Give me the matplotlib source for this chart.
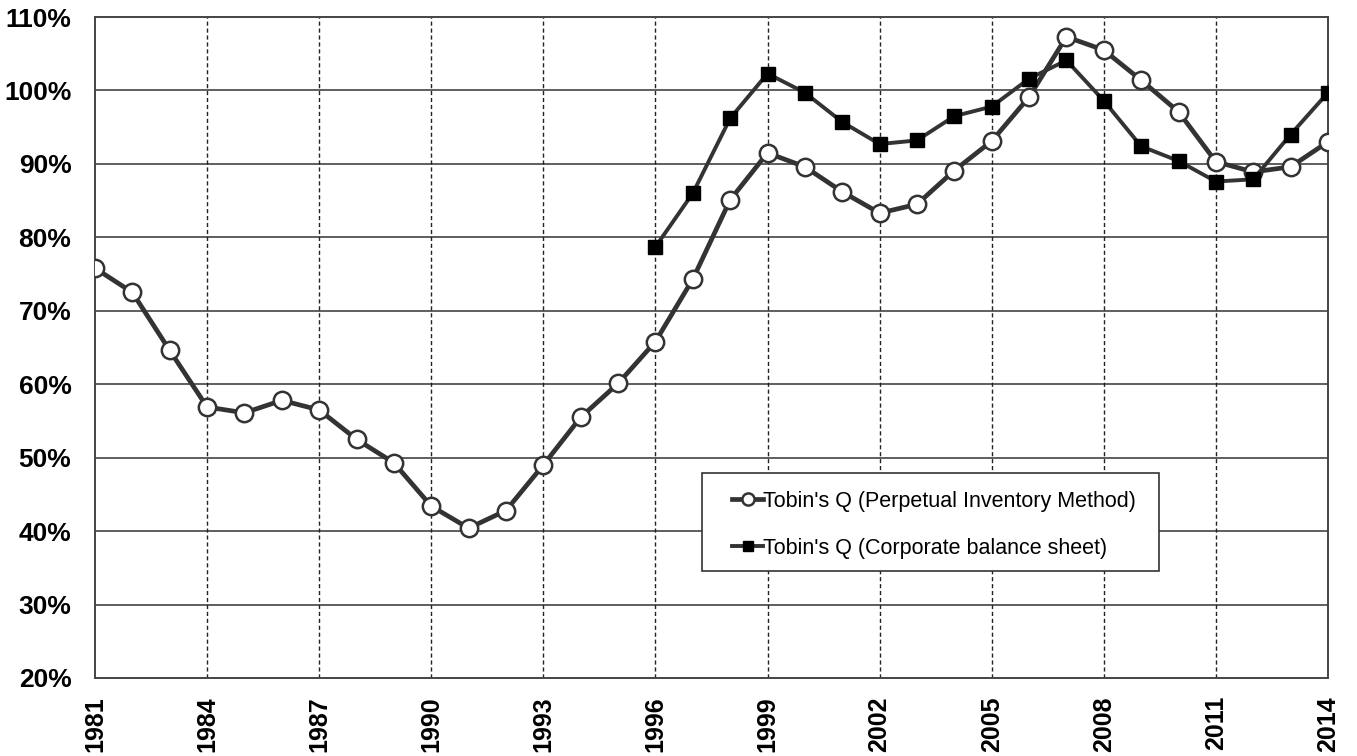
import numpy as np
import matplotlib.pyplot as plt
from matplotlib.patches import Rectangle
from matplotlib.ticker import FuncFormatter

# Dados
years = list(range(1981, 2015))
q_pim = [75.8, 72.5, 64.6, 56.9, 56.1, 57.8, 56.5, 52.5, 49.3, 43.4,
         40.4, 42.8, 49.0, 55.5, 60.1, 65.8, 74.3, 85.1, 91.5, 89.6,
         86.2, 83.3, 84.5, 89.1, 93.1, 99.1, 107.3, 105.5, 101.4, 97.1,
         90.3, 88.9, 89.6, 93.0]
years_bs = list(range(1996, 2015))
q_bs = [78.7, 86.0, 96.2, 102.3, 99.7, 95.7, 92.7, 93.2, 96.5, 97.8,
        101.6, 104.1, 98.6, 92.4, 90.4, 87.6, 87.9, 94.0, 99.7]
label_pim = "Tobin's Q (Perpetual Inventory Method)"
label_bs = "Tobin's Q (Corporate balance sheet)"

plt.rcParams['font.family'] = ['Liberation Sans', 'DejaVu Sans']

fig = plt.figure(figsize=(13.57, 7.56), dpi=100)
ax = fig.add_axes([0.070, 0.1032, 0.9086, 0.8743])

line_col = '#333333'
ax.plot(years, q_pim, color=line_col, lw=3.4, marker='o', ms=12.5,
        mfc='white', mec=line_col, mew=1.8, label=label_pim, zorder=4)
ax.plot(years_bs, q_bs, color=line_col, lw=2.8, marker='s', ms=10,
        mfc='black', mec='black', label=label_bs, zorder=5)

ax.set_xlim(1981, 2014)
ax.set_ylim(20, 110)
ax.set_xticks(range(1981, 2015, 3))
ax.set_yticks(range(20, 111, 10))
ax.yaxis.set_major_formatter(FuncFormatter(lambda v, p: f"{v:.0f}%"))

# grade: horizontais contínuas, verticais tracejadas
for y in range(30, 110, 10):
    ax.axhline(y, color='#333333', lw=1.1, zorder=1)
for x in range(1984, 2014, 3):
    ax.axvline(x, color='#222222', lw=1.0, ls=(0, (3, 2)), zorder=1)

for s in ax.spines.values():
    s.set_color('#444444')
    s.set_linewidth(1.4)

ax.tick_params(axis='y', length=0, pad=17)
ax.tick_params(axis='x', length=0, pad=13)
for t in ax.get_yticklabels():
    t.set_fontsize(19)
    t.set_fontweight('bold')
for t in ax.get_xticklabels():
    t.set_fontsize(18)
    t.set_fontweight('bold')
    t.set_rotation(90)

# caixa da legenda desenhada à parte
box = Rectangle((0.4923, 0.1619), 0.3707, 0.1482, transform=ax.transAxes,
                facecolor='white', edgecolor='#333333', lw=1.2, zorder=6)
ax.add_patch(box)
leg = ax.legend(loc='center left', bbox_to_anchor=(0.517, 0.232),
                prop={'size': 15.5}, frameon=False,
                handlelength=1.4, handletextpad=0.0, markerscale=0.7,
                borderpad=0, labelspacing=1.2, borderaxespad=0)
leg.set_zorder(7)

fig.savefig('out.png', dpi=100)
